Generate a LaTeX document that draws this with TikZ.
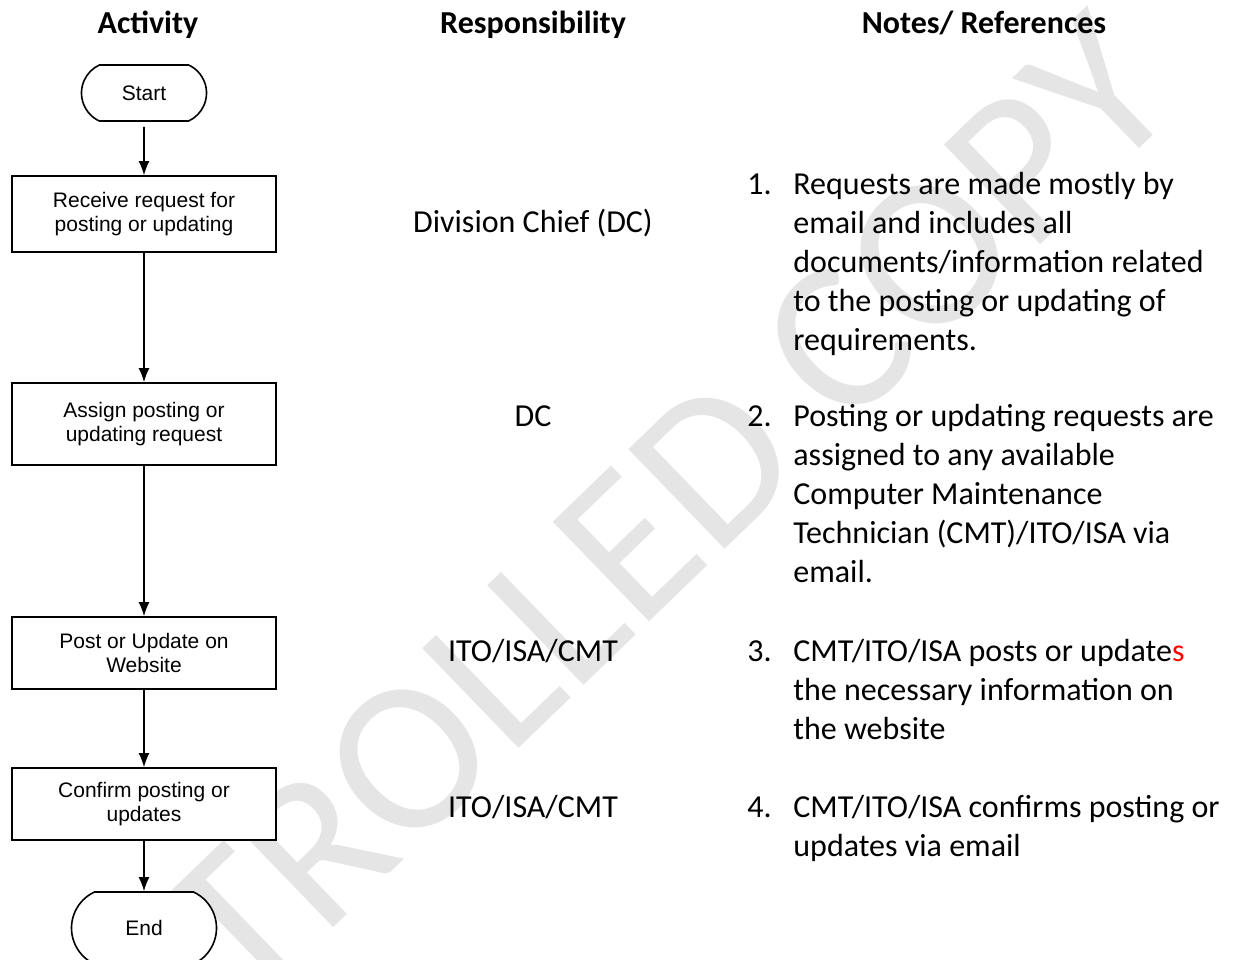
\documentclass[tikz,border=0pt]{standalone}
\usepackage{fontspec}
\setmainfont{Carlito}
\newfontfamily\arialfont{Liberation Sans}
\usetikzlibrary{arrows.meta,shapes.misc}

\begin{document}
\begin{tikzpicture}[
  x=0.5pt,
  y=-0.5pt,
  line/.style={draw=black,line width=0.8pt},
  arrow/.style={line,-{Latex[length=7pt,width=5.5pt]}},
  stepbox/.style={line,fill=white,align=center,inner sep=0pt,minimum width=132pt,
                  font=\arialfont\fontsize{10.5}{12}\selectfont},
  terminal/.style={stepbox,rounded rectangle,rounded rectangle arc length=130},
  head/.style={anchor=base,font=\bfseries\fontsize{16}{19.5}\selectfont},
  resp/.style={anchor=base,font=\fontsize{16}{19.5}\selectfont},
  notenum/.style={anchor=base west,inner sep=0pt,font=\fontsize{16}{19.5}\selectfont},
  notetext/.style={anchor=base west,inner sep=0pt,font=\fontsize{16}{19.5}\selectfont},
  stamp/.style={anchor=base east,inner sep=0pt,rotate=44,text=black!10,
                font=\fontsize{108}{108}\selectfont}
]
\useasboundingbox (0,0) rectangle (1234,959);

% ---------------------------------------------------------------- watermark
\begin{scope}
  \clip (0,0) rectangle (1234,959);
  \node[stamp] (stamp) at (1185,105) {CONTROLLED COPY};
\end{scope}

% ---------------------------------------------------------------- headings
\node[head] (hact)  at (148,33) {Activity};
\node[head] (hresp) at (533,33) {Responsibility};
\node[head] (hnote) at (984,33) {Notes/ References};

% ---------------------------------------------------------------- activity flow
\node[terminal,minimum width=62.5pt,minimum height=28pt] (start) at (144,93) {Start};
\node[stepbox,minimum height=38pt] (receive) at (144,214) {Receive request for\\posting or updating};
\node[stepbox,minimum height=41pt] (assign)  at (144,424) {Assign posting or\\updating request};
\node[stepbox,minimum height=36pt] (post)    at (144,653) {Post or Update on\\Website};
\node[stepbox,minimum height=36pt] (confirm) at (144,804) {Confirm posting or\\updates};
\node[terminal,minimum width=72.5pt,minimum height=36pt] (finish) at (144,928) {End};

\draw[arrow,shorten <=2.5pt] (start) -- (receive);
\draw[arrow] (receive) -- (assign);
\draw[arrow] (assign) -- (post);
\draw[arrow] (post) -- (confirm);
\draw[arrow] (confirm) -- (finish);

% ---------------------------------------------------------------- responsibility
\node[resp] (r1) at (533,232) {Division Chief (DC)};
\node[resp] (r2) at (533,426) {DC};
\node[resp] (r3) at (533,661) {ITO/ISA/CMT};
\node[resp] (r4) at (533,817) {ITO/ISA/CMT};

% ---------------------------------------------------------------- notes
\node[notenum] (n1) at (747,194) {1.};
\node[notetext] (t1) at (793,194) {\parbox[t]{220pt}{\raggedright
  Requests are made mostly by\\email and includes all\\documents/information related\\
  to the posting or updating of\\requirements.}};
\node[notenum] (n2) at (747,426) {2.};
\node[notetext] (t2) at (793,426) {\parbox[t]{220pt}{\raggedright
  Posting or updating requests are\\assigned to any available\\Computer Maintenance\\
  Technician (CMT)/ITO/ISA via\\email.}};
\node[notenum] (n3) at (747,661) {3.};
\node[notetext] (t3) at (793,661) {\parbox[t]{220pt}{\raggedright
  CMT/ITO/ISA posts or update\textcolor{red}{s}\\the necessary information on\\the website}};
\node[notenum] (n4) at (747,817) {4.};
\node[notetext] (t4) at (793,817) {\parbox[t]{220pt}{\raggedright
  CMT/ITO/ISA confirms posting or\\updates via email}};

\end{tikzpicture}
\end{document}
